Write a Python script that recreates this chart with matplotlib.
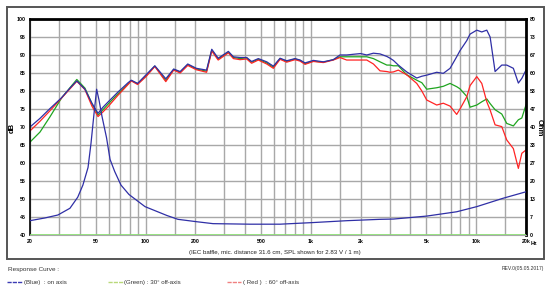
import matplotlib
matplotlib.use("Agg")
import matplotlib.pyplot as plt
from matplotlib.patches import Rectangle
from matplotlib.lines import Line2D

plt.rcParams["font.family"] = ["Liberation Sans", "DejaVu Sans"]

# ---------------------------------------------------------------------------
# Data
# ---------------------------------------------------------------------------
freq = [20, 23, 26.4, 31, 34.9, 38.4, 43, 47.4, 51.6, 55.3, 59.2, 68.1, 78.4, 82,
        89.5, 100.7, 113.8, 132.6, 148, 162, 180, 203, 234, 251.5, 275, 317, 340,
        373, 409, 438, 481, 541, 593, 651, 714, 802, 860, 922, 1035, 1189, 1367,
        1500, 1647, 1807, 2000, 2178, 2390, 2620, 2880, 3013, 3155, 3380, 3800,
        4370, 4690, 5020, 5770, 6325, 6950, 7620, 7980, 8770, 9180, 10080, 10810,
        11590, 12140, 13010, 14280, 15300, 16780, 17990, 18880, 20000]

spl_blue = [70.0, 72.4, 75.1, 78.1, 80.8, 82.8, 80.5, 76.6, 73.8, 75.5, 76.9, 79.7,
            82.3, 83.0, 82.1, 84.5, 87.0, 83.4, 86.1, 85.4, 87.5, 86.3, 85.8, 91.6,
            89.1, 91.0, 89.5, 89.3, 89.3, 88.2, 89.0, 88.1, 86.9, 89.1, 88.4, 89.0,
            88.6, 87.8, 88.5, 88.1, 88.7, 90.0, 90.0, 90.2, 90.4, 90.0, 90.5, 90.3,
            89.6, 89.1, 88.5, 87.2, 85.3, 83.6, 84.1, 84.4, 85.2, 84.9, 86.3, 89.5,
            91.2, 94.0, 95.8, 96.9, 96.4, 96.9, 95.0, 85.4, 87.2, 87.2, 86.3, 82.2,
            83.5, 85.8]

spl_green = [65.8, 68.6, 72.8, 78.0, 80.9, 83.2, 80.8, 76.5, 73.3, 74.8, 76.3, 79.2,
             82.0, 82.9, 82.0, 84.2, 86.9, 82.9, 86.0, 85.2, 87.3, 86.1, 85.5, 91.3,
             88.9, 90.8, 89.3, 89.0, 89.2, 88.0, 88.8, 87.8, 86.6, 89.0, 88.2, 88.9,
             88.5, 87.6, 88.3, 88.0, 88.7, 89.5, 89.5, 89.5, 89.5, 89.5, 89.0, 88.1,
             87.2, 87.2, 87.0, 87.0, 84.5, 83.0, 82.3, 80.5, 80.9, 81.3, 82.1, 81.2,
             80.6, 78.5, 75.5, 76.1, 77.0, 77.8, 76.5, 74.8, 73.6, 71.0, 70.3, 72.0,
             72.5, 76.1]

spl_red = [68.9, 71.6, 74.5, 78.0, 80.6, 82.7, 80.4, 75.8, 72.9, 74.2, 75.6, 78.8,
           81.8, 82.8, 81.8, 84.0, 86.8, 82.6, 85.8, 85.0, 87.1, 85.9, 85.2, 91.1,
           88.6, 90.6, 89.0, 88.7, 88.9, 87.7, 88.6, 87.5, 86.3, 88.8, 88.0, 88.7,
           88.3, 87.4, 88.2, 87.9, 88.6, 89.3, 88.6, 88.6, 88.6, 88.6, 87.5, 85.6,
           85.4, 85.2, 85.3, 85.8, 84.5, 82.1, 80.0, 77.5, 76.1, 76.6, 75.8, 73.5,
           75.0, 78.4, 81.5, 84.0, 82.1, 77.0, 74.7, 70.6, 70.1, 66.4, 64.0, 58.5,
           62.7, 63.6]

imp_freq = [20, 24.6, 29.5, 34.9, 38.9, 41.8, 44.9, 46.8, 48.8, 50.6, 52.3, 54.5,
            58.1, 61.0, 65.1, 71.0, 79.4, 99.3, 134.9, 157, 204.8, 256, 428, 651,
            1030, 1655, 2620, 3155, 5020, 7620, 10080, 14540, 20000]
imp_blue = [5.3, 6.3, 7.4, 9.9, 14.0, 18.5, 25.0, 34.0, 45.0, 54.0, 50.0, 44.0,
            36.0, 28.0, 23.5, 18.5, 15.0, 10.5, 7.2, 5.8, 4.9, 4.2, 4.0, 4.0,
            4.6, 5.3, 5.8, 5.9, 7.0, 8.6, 10.5, 13.6, 16.0]

db_ticks = [40, 45, 50, 55, 60, 65, 70, 75, 80, 85, 90, 95, 100]
ohm_labels = ["0", "7", "13", "20", "27", "33", "40", "47", "53", "60", "67", "73", "80"]
x_ticks = [20, 50, 100, 200, 500, 1000, 2000, 5000, 10000, 20000]
x_labels = ["20", "50", "100", "200", "500", "1k", "2k", "5k", "10k", "20k"]
grid_freqs = [20, 30, 40, 50, 60, 70, 80, 90, 100, 150, 200, 300, 400, 500, 600,
              700, 800, 900, 1000, 1500, 2000, 3000, 4000, 5000, 6000, 7000, 8000,
              9000, 10000, 15000, 20000]

BLUE = "#2f2fa6"
GREEN = "#1fa51f"
RED = "#ff2424"

# ---------------------------------------------------------------------------
# Figure
# ---------------------------------------------------------------------------
fig = plt.figure(figsize=(5.5, 2.9), dpi=100)
fig.patch.set_facecolor("white")
fig.add_artist(Rectangle((0.0127, 0.107), 0.976, 0.869, transform=fig.transFigure,
                         fill=False, edgecolor="#555555", linewidth=1.4))

ax = fig.add_axes([0.0545, 0.1897, 0.9018, 0.7448])
ax.set_xscale("log")
ax.set_xlim(20, 20000)
ax.set_ylim(40, 100)

ax.set_xticks(grid_freqs, minor=True)
ax.set_xticks(x_ticks)
ax.set_xticklabels(x_labels, fontsize=3.8, fontweight="bold")
ax.xaxis.set_minor_formatter(plt.NullFormatter())
ax.set_yticks(db_ticks)
ax.set_yticklabels([str(v) for v in db_ticks], fontsize=3.8, fontweight="bold")
ax.tick_params(which="both", length=0, pad=3)
ax.grid(which="both", axis="x", color="#a8a8a8", linewidth=1.0)
ax.grid(which="major", axis="y", color="#a8a8a8", linewidth=1.0)
ax.set_axisbelow(True)

ax.spines["top"].set_linewidth(2.0)
ax.spines["left"].set_linewidth(1.2)
ax.spines["right"].set_linewidth(2.0)
ax.spines["bottom"].set_color("#a8a8a8")

ax.plot(freq, spl_green, color=GREEN, linewidth=0.9)
ax.plot(freq, spl_red, color=RED, linewidth=0.9)
ax.plot(freq, spl_blue, color=BLUE, linewidth=0.9)

ax2 = ax.twinx()
ax2.set_ylim(0, 80)
ax2.set_yticks([i * 80 / 12 for i in range(13)])
ax2.set_yticklabels(ohm_labels, fontsize=3.8, fontweight="bold")
ax2.tick_params(length=0, pad=2.5)
for s in ax2.spines.values():
    s.set_visible(False)
ax2.axhline(0, color="#88e070", linewidth=1.2)
ax2.plot(imp_freq, imp_blue, color=BLUE, linewidth=0.9)

fig.text(0.022, 0.56, "dB", rotation=90, fontsize=5.5, fontweight="bold",
         ha="center", va="center")
fig.text(0.981, 0.56, "Ohm", rotation=270, fontsize=5.5, fontweight="bold",
         ha="center", va="center")
fig.text(0.964, 0.162, "Hz", fontsize=3.8, fontweight="bold", ha="left", va="center")

fig.text(0.5, 0.128, "(IEC baffle, mic. distance 31.6 cm, SPL shown for 2.83 V / 1 m)",
         fontsize=4.4, ha="center", va="center", color="#222222")

fig.text(0.015, 0.072, "Response Curve :", fontsize=4.6, ha="left", va="center",
         color="#333333")
fig.text(0.99, 0.075, "REV.0(05.05.2017)", fontsize=3.6, ha="right", va="center",
         color="#333333")

legend_items = [
    (0.013, "#3c3cb4", "(Blue)  : on axis"),
    (0.196, "#b9d97a", "(Green) : 30\u00b0 off-axis"),
    (0.412, "#f08080", "( Red )  : 60\u00b0 off-axis"),
]
for x0, col, label in legend_items:
    fig.add_artist(Line2D([x0, x0 + 0.027], [0.027, 0.027], transform=fig.transFigure,
                          color=col, linewidth=1.0, linestyle=(0, (3, 0.8))))
    fig.text(x0 + 0.03, 0.027, label, fontsize=4.4, ha="left", va="center",
             color="#333333")

fig.savefig("out.png", dpi=100)
